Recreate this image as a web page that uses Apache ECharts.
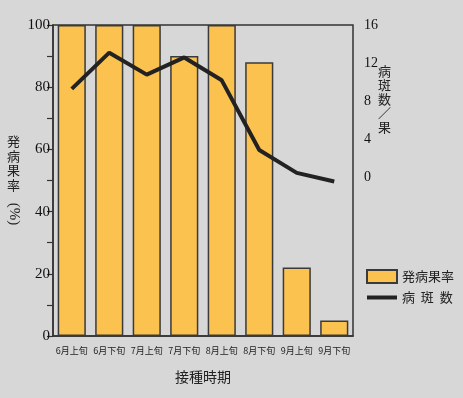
<!DOCTYPE html>
<html>
<head>
<meta charset="utf-8">
<script src="https://cdn.jsdelivr.net/npm/echarts@6/dist/echarts.min.js"></script>
<style>
  html, body { margin: 0; padding: 0; background: #d7d7d7; }
  #main { width: 463px; height: 398px; }
</style>
</head>
<body>
<div id="main"></div>
<script>
var periods = ['6月上旬', '6月下旬', '7月上旬', '7月下旬', '8月上旬', '8月下旬', '9月上旬', '9月下旬'];
var diseasedFruitRate = [100, 100, 100, 90, 100, 88, 22, 5];
var lesionsPerFruit = [9.3, 13.1, 10.8, 12.6, 10.2, 2.9, 0.5, -0.4];
var rightTicks = [0, 4, 8, 12, 16];

var serif = '"Liberation Serif", "DejaVu Serif", serif';
var cjk = '"Noto Sans CJK JP", sans-serif';

var chart = echarts.init(document.getElementById('main'), null, { renderer: 'canvas' });

var option = {
  animation: false,
  backgroundColor: '#d7d7d7',
  grid: {
    left: 53, right: 110, top: 25, bottom: 62,
    show: true, borderColor: '#333', borderWidth: 1.5, backgroundColor: 'transparent'
  },
  legend: {
    orient: 'vertical',
    left: 360, top: 264,
    itemWidth: 30, itemHeight: 13, itemGap: 7,
    textStyle: { fontFamily: cjk, fontSize: 13, color: '#222' },
    formatter: function (name) {
      return name === '病斑数' ? '病  斑  数' : name;
    },
    data: [
      { name: '発病果率', icon: 'rect' },
      { name: '病斑数', itemStyle: { opacity: 0 }, lineStyle: { width: 4, color: '#222' } }
    ]
  },
  xAxis: {
    type: 'category',
    data: periods,
    name: '接種時期',
    nameLocation: 'middle',
    nameGap: 34,
    nameTextStyle: { fontFamily: cjk, fontSize: 14, color: '#222' },
    axisLine: { lineStyle: { color: '#333', width: 1.5 } },
    axisTick: { length: 5, lineStyle: { color: '#333', width: 1.5 } },
    axisLabel: { interval: 0, fontFamily: cjk, fontSize: 9, color: '#222', margin: 10 }
  },
  yAxis: [
    {
      type: 'value',
      min: 0, max: 100, interval: 10,
      axisLine: { show: true, lineStyle: { color: '#333', width: 1.5 } },
      axisTick: { show: true, length: 6, lineStyle: { color: '#333', width: 1.2 } },
      splitLine: { show: false },
      axisLabel: {
        fontFamily: serif, fontSize: 15, color: '#111', margin: 3,
        formatter: function (v) { return v % 20 === 0 ? String(v) : ''; }
      }
    },
    {
      type: 'value',
      position: 'right',
      min: -16.6, max: 16,
      axisLine: { show: false },
      axisTick: { show: false },
      splitLine: { show: false },
      axisLabel: {
        customValues: rightTicks,
        fontFamily: serif, fontSize: 14, color: '#111', margin: 11
      }
    }
  ],
  series: [
    {
      name: '発病果率',
      type: 'bar',
      yAxisIndex: 0,
      data: diseasedFruitRate,
      barCategoryGap: '25%',
      itemStyle: { color: '#fcc24f', borderColor: '#3a3a3a', borderWidth: 1.5 }
    },
    {
      name: '病斑数',
      type: 'line',
      yAxisIndex: 1,
      data: lesionsPerFruit,
      symbol: 'none',
      lineStyle: { color: '#222', width: 4 },
      itemStyle: { color: '#222' }
    }
  ],
  graphic: [
    {
      type: 'text', left: 7, top: 134,
      style: { text: '発\n病\n果\n率', fontFamily: cjk, fontSize: 13, lineHeight: 14.5, fill: '#222' }
    },
    {
      type: 'text', x: 14, y: 214, rotation: -Math.PI / 2,
      style: { text: '(%)', fontFamily: serif, fontSize: 15, fill: '#222', align: 'center', verticalAlign: 'middle' }
    },
    {
      type: 'text', left: 378, top: 64,
      style: { text: '病\n斑\n数\n／\n果', fontFamily: cjk, fontSize: 13, lineHeight: 14, fill: '#222' }
    }
  ]
};

chart.setOption(option);
</script>
</body>
</html>
